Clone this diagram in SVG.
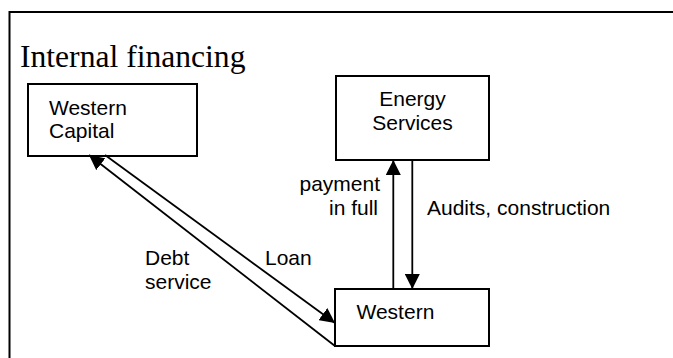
<svg xmlns="http://www.w3.org/2000/svg" width="673" height="358" viewBox="0 0 673 358">
<style>
.box{fill:#fff;stroke:#000;stroke-width:2}
.lbl{font-family:"Liberation Sans",Arial,sans-serif;font-size:21px;fill:#000}
.title{font-family:"Liberation Serif","Times New Roman",serif;font-size:31.6px;fill:#000}
.conn{stroke:#000;stroke-width:1.8;fill:none}
.frame{stroke:#000;stroke-width:2;fill:none}
</style>
<defs>
<marker id="ah" markerUnits="userSpaceOnUse" markerWidth="16" markerHeight="15" refX="15" refY="7.5" orient="auto">
<path d="M0,0 L15,7.5 L0,15 z" fill="#000"/>
</marker>
</defs>
<rect width="673" height="358" fill="#fff"/>
<path class="frame" d="M9.5,358 L9.5,12 L673,12"/>
<text class="title" x="20" y="66.5">Internal financing</text>
<g id="western-capital">
<rect class="box" x="28" y="84" width="169" height="72"/>
<text class="lbl" x="49" y="115">Western</text>
<text class="lbl" x="49" y="138">Capital</text>
</g>
<g id="energy-services">
<rect class="box" x="336" y="76" width="153" height="84"/>
<text class="lbl" x="412.5" y="106" text-anchor="middle">Energy</text>
<text class="lbl" x="412.5" y="130" text-anchor="middle">Services</text>
</g>
<g id="western">
<rect class="box" x="335" y="289" width="154" height="57"/>
<text class="lbl" x="356.5" y="318.5">Western</text>
</g>
<g id="connectors">
<line class="conn" x1="335" y1="346" x2="89" y2="155" marker-end="url(#ah)"/>
<line class="conn" x1="105" y1="155" x2="335" y2="323" marker-end="url(#ah)"/>
<line class="conn" x1="393.3" y1="289" x2="393.3" y2="160" marker-end="url(#ah)"/>
<line class="conn" x1="412.3" y1="160" x2="412.3" y2="289" marker-end="url(#ah)"/>
</g>
<g id="labels">
<text class="lbl" x="145" y="265">Debt</text>
<text class="lbl" x="145" y="288.5">service</text>
<text class="lbl" x="265" y="265">Loan</text>
<text class="lbl" x="380" y="191" text-anchor="end">payment</text>
<text class="lbl" x="378" y="215" text-anchor="end">in full</text>
<text class="lbl" x="427" y="215">Audits, construction</text>
</g>
</svg>
